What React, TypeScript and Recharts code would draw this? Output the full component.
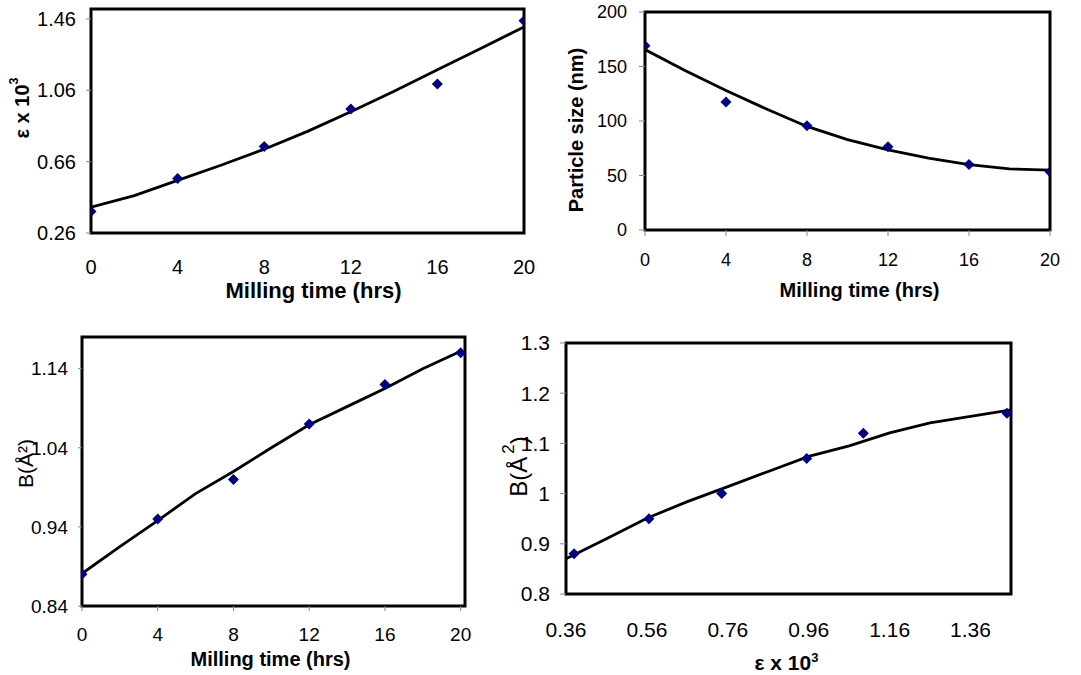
import React from 'react';
import { ScatterChart, Scatter, XAxis, YAxis, ReferenceArea } from 'recharts';

// ---- data ----
const TIME = [0, 4, 8, 12, 16, 20];
const STRAIN = [0.38, 0.565, 0.745, 0.955, 1.095, 1.45];
const SIZE_NM = [169, 117.5, 95.6, 76.3, 60.2, 53.4];
const B_VAL = [0.88, 0.95, 1.0, 1.07, 1.12, 1.16];

const FIT_TIME = [0, 2, 4, 6, 8, 10, 12, 14, 16, 18, 20];
const FIT_STRAIN = [0.405, 0.47, 0.555, 0.64, 0.73, 0.83, 0.94, 1.055, 1.175, 1.295, 1.415];
const FIT_SIZE = [165.5, 146, 128, 111, 95, 83, 73.5, 66, 60, 56, 55];
const FIT_B = [0.881, 0.915, 0.948, 0.982, 1.01, 1.04, 1.069, 1.092, 1.115, 1.14, 1.162];
const FIT_EPS_X = [0.36, 0.46, 0.56, 0.66, 0.76, 0.86, 0.96, 1.06, 1.16, 1.26, 1.36, 1.46];
const FIT_B2 = [0.87, 0.91, 0.951, 0.984, 1.014, 1.044, 1.074, 1.095, 1.121, 1.141, 1.154, 1.167];

const TIME_TICKS = [0, 4, 8, 12, 16, 20];
const STRAIN_TICKS = [0.26, 0.66, 1.06, 1.46];
const SIZE_TICKS = [0, 50, 100, 150, 200];
const B_TICKS = [0.84, 0.94, 1.04, 1.14];
const EPS_TICKS = [0.36, 0.56, 0.76, 0.96, 1.16, 1.36];
const B2_TICKS = [0.8, 0.9, 1, 1.1, 1.2, 1.3];

const zip = (xs: number[], ys: number[]) => xs.map((x, i) => ({ x, y: ys[i] }));

const FONT = '"Liberation Sans", Arial, sans-serif';
const MARKER = '#000080';

const Diamond = (props: any) => {
  const { cx, cy } = props;
  if (cx == null || cy == null) return <g />;
  const r = 5.5;
  return (
    <polygon
      points={`${cx},${cy - r} ${cx + r},${cy} ${cx},${cy + r} ${cx - r},${cy}`}
      fill={MARKER}
    />
  );
};

const NoShape = () => <g />;

type PanelProps = {
  left: number; top: number; width: number; height: number;
  yW: number; xH: number; mTop: number; mRight: number;
  xDomain: [number, number]; yDomain: [number, number];
  xTicks: number[]; yTicks: number[];
  points: { x: number; y: number }[];
  fit: { x: number; y: number }[];
  fontSize: number;
  xTickLine: boolean; xTickSize: number; xTickMargin: number;
  yTickSize: number; yTickMargin: number;
  xTitle: (vb: any) => React.ReactNode;
  yTitle: (vb: any) => React.ReactNode;
};

const Panel = (p: PanelProps) => (
  <div style={{ position: 'absolute', left: p.left, top: p.top, width: p.width, height: p.height }}>
    <ScatterChart
      width={p.width}
      height={p.height}
      margin={{ top: p.mTop, right: p.mRight, bottom: 0, left: 0 }}
    >
      <XAxis
        type="number"
        dataKey="x"
        domain={p.xDomain}
        ticks={p.xTicks}
        allowDataOverflow
        interval={0}
        height={p.xH}
        axisLine={false}
        tickLine={p.xTickLine ? { stroke: '#888', strokeWidth: 1 } : false}
        tickSize={p.xTickSize}
        tickMargin={p.xTickMargin}
        tick={{ fill: '#000', fontSize: p.fontSize, fontFamily: FONT }}
        label={{ content: (lp: any) => p.xTitle(lp.viewBox) }}
      />
      <YAxis
        type="number"
        dataKey="y"
        domain={p.yDomain}
        ticks={p.yTicks}
        allowDataOverflow
        interval={0}
        width={p.yW}
        axisLine={false}
        tickLine={{ stroke: '#888', strokeWidth: 1 }}
        tickSize={p.yTickSize}
        tickMargin={p.yTickMargin}
        tick={{ fill: '#000', fontSize: p.fontSize, fontFamily: FONT }}
        label={{ content: (lp: any) => p.yTitle(lp.viewBox) }}
      />
      <ReferenceArea
        x1={p.xDomain[0]}
        x2={p.xDomain[1]}
        y1={p.yDomain[0]}
        y2={p.yDomain[1]}
        fill="none"
        fillOpacity={0}
        stroke="#000"
        strokeWidth={3}
        ifOverflow="visible"
      />
      <Scatter
        data={p.fit}
        line={{ stroke: '#000', strokeWidth: 2.8 }}
        lineType="joint"
        shape={NoShape}
        isAnimationActive={false}
      />
      <Scatter data={p.points} shape={Diamond} isAnimationActive={false} />
    </ScatterChart>
  </div>
);

const xTitleText = (dx: number, dy: number, size: number, text: React.ReactNode) => (vb: any) => (
  <text
    x={vb.x + vb.width / 2 + dx}
    y={vb.y + dy}
    textAnchor="middle"
    fontFamily={FONT}
    fontWeight="bold"
    fontSize={size}
    fill="#000"
  >
    {text}
  </text>
);

const yTitleText = (x: number, dy: number, size: number, weight: string, text: React.ReactNode) => (vb: any) => {
  const cx = vb.x + x;
  const cy = vb.y + vb.height / 2 + dy;
  return (
    <text
      x={cx}
      y={cy}
      transform={`rotate(-90 ${cx} ${cy})`}
      textAnchor="middle"
      dominantBaseline="central"
      fontFamily={FONT}
      fontWeight={weight}
      fontSize={size}
      fill="#000"
    >
      {text}
    </text>
  );
};

const epsLabel = (size: number) => (
  <>
    <tspan>ε x 10</tspan>
    <tspan dy={-size * 0.4} fontSize={size * 0.62}>3</tspan>
  </>
);

export default function App() {
  return (
    <div style={{ position: 'fixed', left: 0, top: 0, width: 1081, height: 675, background: '#fff' }}>
      <Panel
        left={0} top={0} width={540} height={310}
        yW={91} xH={77} mTop={9} mRight={16}
        xDomain={[0, 20]} yDomain={[0.26, 1.516]}
        xTicks={TIME_TICKS} yTicks={STRAIN_TICKS}
        points={zip(TIME, STRAIN)} fit={zip(FIT_TIME, FIT_STRAIN)}
        fontSize={20}
        xTickLine={false} xTickSize={5} xTickMargin={22}
        yTickSize={5} yTickMargin={10}
        xTitle={xTitleText(6, 65, 22, 'Milling time (hrs)')}
        yTitle={yTitleText(22, -13, 20, 'bold', epsLabel(20))}
      />
      <Panel
        left={540} top={0} width={541} height={310}
        yW={105} xH={80} mTop={12} mRight={31}
        xDomain={[0, 20]} yDomain={[0, 200]}
        xTicks={TIME_TICKS} yTicks={SIZE_TICKS}
        points={zip(TIME, SIZE_NM)} fit={zip(FIT_TIME, FIT_SIZE)}
        fontSize={18}
        xTickLine={true} xTickSize={6} xTickMargin={17}
        yTickSize={6} yTickMargin={12}
        xTitle={xTitleText(12, 67, 20, 'Milling time (hrs)')}
        yTitle={yTitleText(36, 9, 20, 'bold', 'Particle size (nm)')}
      />
      <Panel
        left={0} top={320} width={540} height={355}
        yW={82} xH={69} mTop={17} mRight={75}
        xDomain={[0, 20.23]} yDomain={[0.84, 1.18]}
        xTicks={TIME_TICKS} yTicks={B_TICKS}
        points={zip(TIME, B_VAL)} fit={zip(FIT_TIME, FIT_B)}
        fontSize={19}
        xTickLine={true} xTickSize={5} xTickMargin={17}
        yTickSize={4} yTickMargin={10}
        xTitle={xTitleText(-3, 60, 20, 'Milling time (hrs)')}
        yTitle={yTitleText(25, -8, 21, 'normal', 'B(Å²)')}
      />
      <Panel
        left={490} top={320} width={591} height={355}
        yW={76} xH={81} mTop={23} mRight={70}
        xDomain={[0.36, 1.46]} yDomain={[0.8, 1.3]}
        xTicks={EPS_TICKS} yTicks={B2_TICKS}
        points={zip(STRAIN, B_VAL)} fit={zip(FIT_EPS_X, FIT_B2)}
        fontSize={21}
        xTickLine={false} xTickSize={6} xTickMargin={22}
        yTickSize={6} yTickMargin={10}
        xTitle={xTitleText(-2, 76, 21, epsLabel(21))}
        yTitle={yTitleText(28, -2, 24, 'normal', (
          <>
            <tspan>B(Å</tspan>
            <tspan dx={3} dy={-10} fontSize={17}>2</tspan>
            <tspan dy={10}>)</tspan>
          </>
        ))}
      />
    </div>
  );
}
